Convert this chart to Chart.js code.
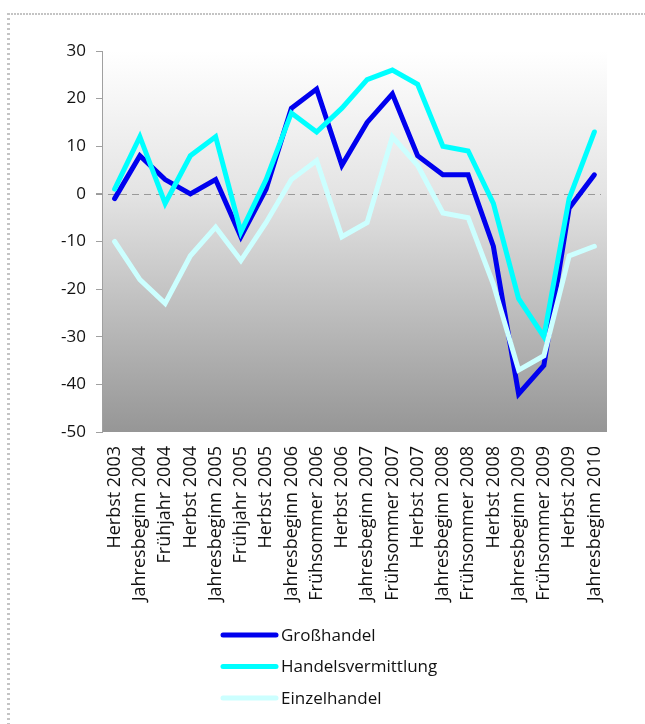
<!DOCTYPE html>
<html>
<head>
<meta charset="utf-8">
<script src="https://cdn.jsdelivr.net/npm/chart.js@4"></script>
<style>
  html, body { margin: 0; padding: 0; background: #ffffff; }
  #wrap { width: 645px; height: 724px; position: relative; }
  canvas { display: block; }
</style>
</head>
<body>
<div id="wrap"><canvas id="c" width="645" height="724"></canvas></div>
<script>
const categories = [
  "Herbst 2003", "Jahresbeginn 2004", "Frühjahr 2004", "Herbst 2004",
  "Jahresbeginn 2005", "Frühjahr 2005", "Herbst 2005", "Jahresbeginn 2006",
  "Frühsommer 2006", "Herbst 2006", "Jahresbeginn 2007", "Frühsommer 2007",
  "Herbst 2007", "Jahresbeginn 2008", "Frühsommer 2008", "Herbst 2008",
  "Jahresbeginn 2009", "Frühsommer 2009", "Herbst 2009", "Jahresbeginn 2010"
];
const grosshandel = [-1, 8, 3, 0, 3, -9, 1, 18, 22, 6, 15, 21, 8, 4, 4, -11, -42, -36, -3, 4];
const handelsvermittlung = [1, 12, -2, 8, 12, -8, 3, 17, 13, 18, 24, 26, 23, 10, 9, -2, -22, -30, -1, 13];
const einzelhandel = [-10, -18, -23, -13, -7, -14, -6, 3, 7, -9, -6, 12, 6, -4, -5, -19, -37, -34, -13, -11];
const seriesNames = ["Großhandel", "Handelsvermittlung", "Einzelhandel"];
const seriesColors = ["#0000EE", "#00FFFF", "#CCFFFF"];
const yMin = -50, yMax = 30, yStep = 10;

const FONT = "'Open Sans', 'DejaVu Sans', sans-serif";

const bgPlugin = {
  id: 'bg',
  beforeDraw(chart) {
    const { ctx, chartArea: a } = chart;
    const g = ctx.createLinearGradient(0, a.top, 0, a.bottom);
    g.addColorStop(0, '#ffffff');
    g.addColorStop(0.37, '#e4e4e4');
    g.addColorStop(1, '#969696');
    ctx.save();
    ctx.fillStyle = g;
    ctx.fillRect(a.left, a.top, a.right - a.left, a.bottom - a.top);
    // dotted frame (top and left)
    ctx.fillStyle = '#c4c4c4';
    for (let x = 8; x < chart.width; x += 3) ctx.fillRect(x, 13, 2, 2);
    for (let y = 13; y < chart.height; y += 5) ctx.fillRect(7, y, 3, 2);
    ctx.restore();
  },
  beforeDatasetsDraw(chart) {
    const { ctx, chartArea: a, scales } = chart;
    const y0 = Math.round(scales.y.getPixelForValue(0)) + 0.5;
    ctx.save();
    ctx.strokeStyle = '#999999';
    ctx.lineWidth = 1;
    ctx.setLineDash([7, 5]);
    ctx.beginPath();
    ctx.moveTo(a.left - 6, y0);
    ctx.lineTo(a.right - 6, y0);
    ctx.stroke();
    ctx.restore();
  },
  afterDraw(chart) {
    const { ctx } = chart;
    const ds = chart.data.datasets;
    ctx.save();
    ctx.font = "17px " + FONT;
    ctx.textBaseline = 'middle';
    ctx.textAlign = 'left';
    const startY = 635, gap = 31.5;
    ds.forEach((d, i) => {
      const y = startY + i * gap;
      ctx.strokeStyle = d.borderColor;
      ctx.lineWidth = 5;
      ctx.lineCap = 'round';
      ctx.beginPath();
      ctx.moveTo(223, y);
      ctx.lineTo(276, y);
      ctx.stroke();
      ctx.fillStyle = '#111111';
      ctx.fillText(d.label, 281, y + 1);
    });
    ctx.restore();
  }
};

const mk = (label, data, color, order) => ({
  label, data, borderColor: color, backgroundColor: color,
  borderWidth: 5, pointRadius: 0, pointHoverRadius: 0, tension: 0,
  borderJoinStyle: 'miter', borderCapStyle: 'round', fill: false, order
});

new Chart(document.getElementById('c'), {
  type: 'line',
  data: {
    labels: categories,
    datasets: [
      mk(seriesNames[0], grosshandel, seriesColors[0], 3),
      mk(seriesNames[1], handelsvermittlung, seriesColors[1], 2),
      mk(seriesNames[2], einzelhandel, seriesColors[2], 1)
    ]
  },
  options: {
    responsive: false,
    devicePixelRatio: 1,
    animation: false,
    events: [],
    layout: { padding: { top: 51, right: 38, left: 0, bottom: 0 } },
    plugins: { legend: { display: false }, tooltip: { enabled: false } },
    scales: {
      x: {
        type: 'category',
        offset: true,
        grid: { display: false, drawTicks: false },
        border: { display: false },
        ticks: {
          minRotation: 90, maxRotation: 90, autoSkip: false,
          padding: 14, color: '#111111',
          font: { family: FONT, size: 18 }
        },
        afterFit(s) { s.height = 292; }
      },
      y: {
        min: yMin, max: yMax,
        grid: { display: true, drawOnChartArea: false, drawTicks: true, tickLength: 6, color: '#a0a0a0' },
        border: { display: true, color: '#a0a0a0', width: 1 },
        ticks: {
          stepSize: yStep, padding: 10, color: '#111111',
          font: { family: FONT, size: 17 }
        },
        afterFit(s) { s.width = 102; }
      }
    }
  },
  plugins: [bgPlugin]
});
</script>
</body>
</html>
